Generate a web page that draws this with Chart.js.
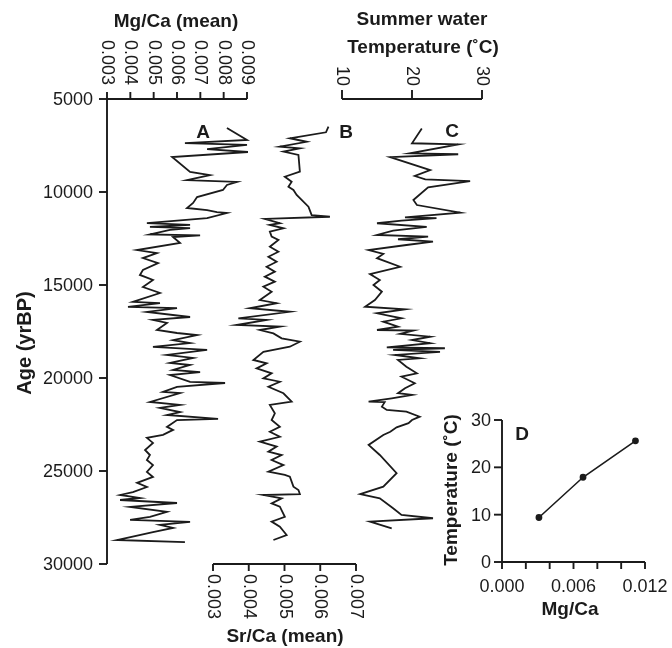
<!DOCTYPE html>
<html><head><meta charset="utf-8">
<script src="https://cdn.jsdelivr.net/npm/chart.js@4.4.0/dist/chart.umd.min.js"></script>
<style>
html,body{margin:0;padding:0;background:#fff;}
#wrap{position:relative;width:672px;height:648px;}
canvas{position:absolute;left:0;top:0;}
</style>
</head><body>
<div id="wrap"><canvas id="main" width="672" height="648"></canvas><canvas id="inset" width="672" height="648"></canvas></div>
<script>
// ---------- DATA ----------
// A: Mg/Ca (mean) vs age
const ageA = [6560,7200,7370,7470,7690,7850,8120,8920,9090,9360,
  9460,9620,9890,10270,10590,10860,10970,11080,11130,11400,
  11670,11770,11880,11940,12040,12280,12330,12420,12740,13120,
  13280,13550,13820,14190,14460,14730,15110,15430,15910,15970,
  16180,16240,16450,16720,16880,17040,17420,17580,17690,17960,
  18120,18330,18490,18760,18920,19190,19300,19570,19680,19840,
  20210,20270,20480,20750,20810,21290,21450,21610,21830,21990,
  22200,22260,22630,22790,23060,23220,23490,23870,24140,24410,
  24680,25050,25320,25640,25860,26130,26290,26450,26560,26720,
  26930,27200,27470,27630,27740,27900,28060,28280,28710,28820];
const mgA = [0.00814,0.00900,0.00634,0.00900,0.00729,0.00904,0.00579,0.00656,0.00741,0.00643,
  0.00857,0.00814,0.00797,0.00686,0.00669,0.00643,0.00729,0.00771,0.00814,0.00729,
  0.00471,0.00656,0.00484,0.00656,0.00570,0.00484,0.00699,0.00583,0.00613,0.00429,
  0.00514,0.00454,0.00519,0.00454,0.00441,0.00497,0.00454,0.00527,0.00411,0.00527,
  0.00390,0.00600,0.00471,0.00656,0.00497,0.00557,0.00514,0.00600,0.00686,0.00583,
  0.00656,0.00497,0.00729,0.00557,0.00669,0.00570,0.00656,0.00583,0.00699,0.00570,
  0.00656,0.00806,0.00600,0.00540,0.00613,0.00484,0.00613,0.00527,0.00613,0.00557,
  0.00776,0.00600,0.00557,0.00583,0.00540,0.00471,0.00497,0.00463,0.00484,0.00471,
  0.00497,0.00471,0.00497,0.00429,0.00471,0.00411,0.00356,0.00441,0.00356,0.00600,
  0.00399,0.00557,0.00484,0.00399,0.00656,0.00527,0.00583,0.00497,0.00343,0.00634];

// B: Sr/Ca (mean) vs age
const ageB = [6490,6790,7110,7300,7560,7650,7830,8010,8910,9180,
  9450,9720,9890,10160,10790,11240,11330,11450,11680,11770,
  11950,12130,12400,12580,12940,13210,13480,13750,14020,14280,
  14550,14820,15090,15360,15810,15980,16250,16440,16790,16880,
  17150,17240,17420,17600,17870,18050,18320,18590,19030,19210,
  19480,19750,20020,20200,20470,20820,21270,21450,21900,22260,
  22620,22890,23160,23420,23690,23960,24140,24410,24680,25040,
  25210,25310,25840,26020,26240,26290,26470,26740,26920,27460,
  27720,27990,28440,28710];
const srB = [0.00623,0.00616,0.00515,0.00562,0.00487,0.00543,0.00497,0.00539,0.00543,0.00501,
  0.00520,0.00511,0.00525,0.00534,0.00567,0.00576,0.00627,0.00445,0.00487,0.00459,
  0.00497,0.00459,0.00464,0.00483,0.00459,0.00483,0.00455,0.00478,0.00450,0.00473,
  0.00445,0.00473,0.00441,0.00464,0.00431,0.00478,0.00403,0.00515,0.00371,0.00450,
  0.00366,0.00487,0.00431,0.00469,0.00492,0.00543,0.00515,0.00441,0.00413,0.00450,
  0.00422,0.00464,0.00441,0.00487,0.00455,0.00497,0.00520,0.00459,0.00473,0.00464,
  0.00487,0.00459,0.00487,0.00431,0.00478,0.00455,0.00492,0.00464,0.00497,0.00455,
  0.00501,0.00515,0.00525,0.00539,0.00543,0.00441,0.00492,0.00464,0.00487,0.00501,
  0.00464,0.00487,0.00506,0.00469];

// C: Summer water temperature (°C) vs age
const ageC = [6580,7380,7440,7920,7970,8130,8820,9140,9320,9410,
  9750,10430,10700,11110,11360,11410,11540,11680,11870,12080,
  12310,12400,12540,12670,12850,13120,13330,13560,14020,14410,
  14730,15000,15360,15810,16170,16310,16520,16790,16970,17240,
  17420,17450,17630,17780,17960,18130,18350,18400,18490,18600,
  18760,18940,19030,19390,19750,19930,20280,20550,20820,20910,
  21090,21270,21300,21540,21720,21810,22080,22260,22430,22650,
  22890,23060,23600,24140,25120,25840,26240,26470,27000,27360,
  27540,27720,28080];
const tempC = [21.4,20.0,26.6,19.7,26.6,16.9,22.6,20.4,21.9,28.3,
  22.3,20.2,20.7,26.9,19.0,23.5,18.5,15.0,22.1,17.3,
  15.0,22.3,18.0,23.0,19.2,13.8,15.9,15.0,18.3,14.0,
  15.4,14.5,15.7,14.7,13.3,19.0,15.0,18.5,15.9,18.0,
  15.0,20.2,18.3,22.6,20.0,22.6,16.4,24.7,17.3,24.0,
  17.6,21.1,18.0,19.2,20.7,18.5,20.4,19.0,18.0,20.0,
  17.1,13.8,16.1,15.7,16.4,19.2,21.1,20.0,19.5,17.8,
  16.9,15.9,13.8,15.4,17.8,15.9,12.6,15.4,17.3,18.5,
  23.0,14.0,17.1];

// D: calibration Temperature vs Mg/Ca
const mgD = [0.0031, 0.0068, 0.0112];
const tempD = [9.4, 17.9, 25.6];

// tick labels
const ageTicks = [5000,10000,15000,20000,25000,30000];
const mgTicks = ['0.003','0.004','0.005','0.006','0.007','0.008','0.009'];
const srTicks = ['0.003','0.004','0.005','0.006','0.007'];
const tempTicks = ['10','20','30'];
const dTempTicks = ['0','10','20','30'];
const dMgTicks = ['0.000','0.002','0.004','0.006','0.008','0.010','0.012'];
const dMgLabels = ['0.000','0.006','0.012'];

// ---------- LAYOUT ----------
const W = 672, H = 648;
const INK = '#1b1b1b';
const FONT = '"Liberation Sans", Arial, Helvetica, sans-serif';
const AREA = {left:107, right:482, top:99, bottom:564};
const DAREA = {left:502, right:645, top:420, bottom:562};
function fit(v0,p0,v1,p1,lo,hi){ const k=(v1-v0)/(p1-p0); return {min:v0+(lo-p0)*k, max:v0+(hi-p0)*k}; }
const rA = fit(0.003,107,0.009,247,AREA.left,AREA.right);
const rB = fit(0.003,213,0.007,356,AREA.left,AREA.right);
const rC = fit(10,342,30,482,AREA.left,AREA.right);

function ln(c,x1,y1,x2,y2){ c.beginPath(); c.moveTo(x1,y1); c.lineTo(x2,y2); c.stroke(); }
function vtext(c,t,x,y,align){ c.save(); c.translate(x,y); c.rotate(Math.PI/2); c.textAlign=align; c.textBaseline='middle'; c.fillText(t,0,0); c.restore(); }
function utext(c,t,x,y){ c.save(); c.translate(x,y); c.rotate(-Math.PI/2); c.textAlign='center'; c.textBaseline='middle'; c.fillText(t,0,0); c.restore(); }

const mainAxes = {
  id:'mainAxes',
  afterDraw(chart){
    const c = chart.ctx, sy = chart.scales.y, sA = chart.scales.xA, sB = chart.scales.xB, sC = chart.scales.xC;
    c.save();
    c.strokeStyle = INK; c.fillStyle = INK; c.lineWidth = 1.9;
    const yTop = sy.getPixelForValue(5000), yBot = sy.getPixelForValue(30000);
    // left age axis
    ln(c, AREA.left, yTop, AREA.left, yBot);
    c.font = '18px ' + FONT; c.textAlign = 'right'; c.textBaseline = 'middle';
    ageTicks.forEach(v => { const p = sy.getPixelForValue(v); ln(c, AREA.left-8, p, AREA.left, p); c.fillText(String(v), AREA.left-14, p+1); });
    c.font = 'bold 20px ' + FONT;
    utext(c, 'Age (yrBP)', 25, 343);

    // top Mg/Ca axis
    const a0 = sA.getPixelForValue(+mgTicks[0]), a1 = sA.getPixelForValue(+mgTicks[mgTicks.length-1]);
    ln(c, a0, yTop, a1, yTop);
    c.font = '18px ' + FONT;
    mgTicks.forEach(t => { const p = sA.getPixelForValue(+t); ln(c, p, yTop-7, p, yTop); vtext(c, t, p, yTop-14, 'right'); });
    c.font = 'bold 19px ' + FONT; c.textAlign = 'center';
    c.fillText('Mg/Ca (mean)', 176, 22);

    // top temperature axis
    const c0 = sC.getPixelForValue(+tempTicks[0]), c1 = sC.getPixelForValue(+tempTicks[tempTicks.length-1]);
    ln(c, c0, yTop, c1, yTop);
    c.font = '18px ' + FONT;
    tempTicks.forEach(t => { const p = sC.getPixelForValue(+t); ln(c, p, yTop-9, p, yTop); vtext(c, t, p, yTop-13, 'right'); });
    c.font = 'bold 19px ' + FONT; c.textAlign = 'center'; c.textBaseline = 'middle';
    c.fillText('Summer water', 422, 20);
    c.fillText('Temperature (\u02DAC)', 423, 48);

    // bottom Sr/Ca axis
    const b0 = sB.getPixelForValue(+srTicks[0]), b1 = sB.getPixelForValue(+srTicks[srTicks.length-1]);
    ln(c, b0, yBot, b1, yBot);
    c.font = '18px ' + FONT;
    srTicks.forEach(t => { const p = sB.getPixelForValue(+t); ln(c, p, yBot, p, yBot+7); vtext(c, t, p, yBot+10, 'left'); });
    c.font = 'bold 19px ' + FONT; c.textAlign = 'center'; c.textBaseline = 'middle';
    c.fillText('Sr/Ca (mean)', 285, 637);

    // panel letters
    c.font = 'bold 19px ' + FONT;
    c.fillText('A', 203, 133);
    c.fillText('B', 346, 133);
    c.fillText('C', 452, 132);
    c.restore();
  }
};

const insetAxes = {
  id:'insetAxes',
  afterDraw(chart){
    const c = chart.ctx, sx = chart.scales.x, sy = chart.scales.y;
    c.save();
    c.strokeStyle = INK; c.fillStyle = INK; c.lineWidth = 1.9;
    const x0 = sx.getPixelForValue(0), y0 = sy.getPixelForValue(0);
    const yMax = sy.getPixelForValue(+dTempTicks[dTempTicks.length-1]);
    const xMax = sx.getPixelForValue(+dMgTicks[dMgTicks.length-1]);
    ln(c, x0, yMax, x0, y0);
    ln(c, x0, y0, xMax, y0);
    c.font = '18px ' + FONT; c.textAlign = 'right'; c.textBaseline = 'middle';
    dTempTicks.forEach(t => { const p = sy.getPixelForValue(+t); ln(c, x0-8, p, x0, p); c.fillText(t, x0-11, p+1); });
    c.textAlign = 'center';
    dMgTicks.forEach(t => { const p = sx.getPixelForValue(+t); ln(c, p, y0, p, y0+7); if (dMgLabels.includes(t)) c.fillText(t, p, y0+25); });
    c.font = 'bold 19px ' + FONT;
    utext(c, 'Temperature (\u02DAC)', 452, 490);
    c.textAlign = 'center'; c.textBaseline = 'middle';
    c.fillText('Mg/Ca', 570, 610);
    c.fillText('D', 522, 435);
    c.restore();
  }
};

const lineStyle = {showLine:true, borderColor:INK, borderWidth:1.8, pointRadius:0, tension:0, clip:false, yAxisID:'y'};

new Chart(document.getElementById('main'), {
  type:'scatter',
  data:{datasets:[
    Object.assign({label:'A', xAxisID:'xA', data: ageA.map((a,i)=>({x:mgA[i], y:a}))}, lineStyle),
    Object.assign({label:'B', xAxisID:'xB', data: ageB.map((a,i)=>({x:srB[i], y:a}))}, lineStyle),
    Object.assign({label:'C', xAxisID:'xC', data: ageC.map((a,i)=>({x:tempC[i], y:a}))}, lineStyle)
  ]},
  options:{
    responsive:false, animation:false, devicePixelRatio:1,
    layout:{padding:{left:AREA.left, right:W-AREA.right, top:AREA.top, bottom:H-AREA.bottom}},
    plugins:{legend:{display:false}, tooltip:{enabled:false}},
    scales:{
      xA:{type:'linear', position:'top', display:false, min:rA.min, max:rA.max},
      xB:{type:'linear', position:'bottom', display:false, min:rB.min, max:rB.max},
      xC:{type:'linear', position:'top', display:false, min:rC.min, max:rC.max},
      y:{type:'linear', position:'left', display:false, reverse:true, min:5000, max:30000}
    }
  },
  plugins:[mainAxes]
});

new Chart(document.getElementById('inset'), {
  type:'scatter',
  data:{datasets:[{label:'D', data: mgD.map((m,i)=>({x:m, y:tempD[i]})), showLine:true, borderColor:INK, borderWidth:1.6,
    pointRadius:2.6, pointBackgroundColor:INK, pointBorderColor:INK, tension:0, clip:false}]},
  options:{
    responsive:false, animation:false, devicePixelRatio:1,
    layout:{padding:{left:DAREA.left, right:W-DAREA.right, top:DAREA.top, bottom:H-DAREA.bottom}},
    plugins:{legend:{display:false}, tooltip:{enabled:false}},
    scales:{
      x:{type:'linear', display:false, min:0, max:0.012},
      y:{type:'linear', display:false, min:0, max:30}
    }
  },
  plugins:[insetAxes]
});
</script>
</body></html>
